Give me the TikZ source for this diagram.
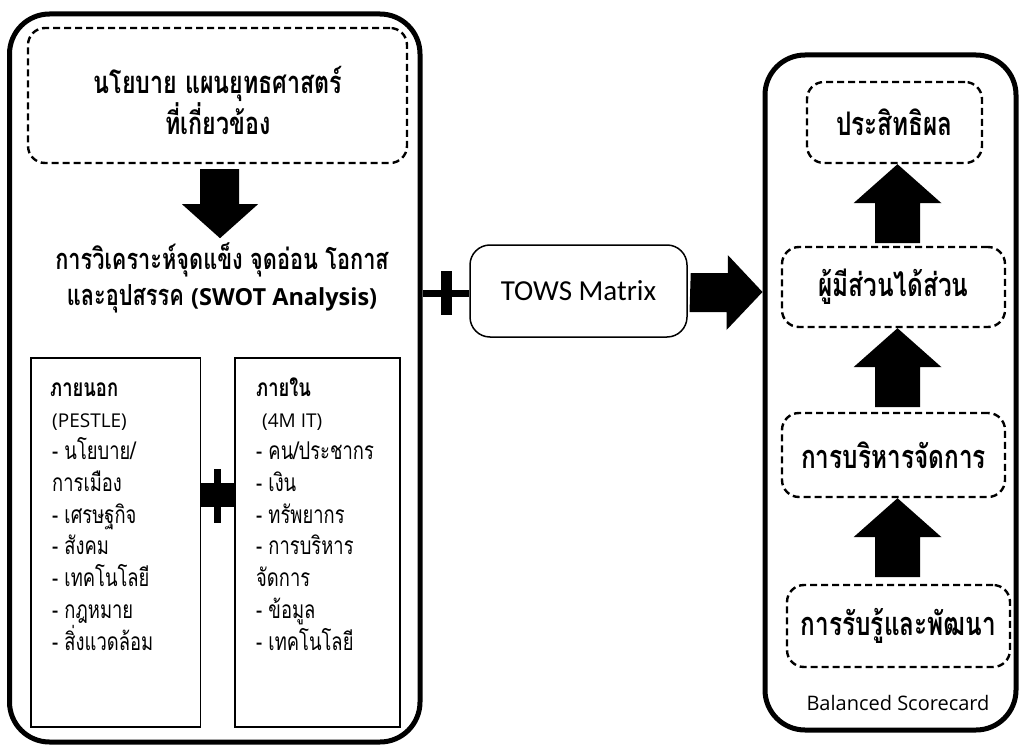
\documentclass[tikz,border=0pt]{standalone}
\usepackage{fontspec}
\setmainfont{Open Sans}
\newfontfamily\thai[Script=Thai, FakeStretch=0.75]{Loma}
\newfontfamily\calib{Carlito}
\usetikzlibrary{calc}
\tikzset{
  frame/.style={draw, line width=5pt, rounded corners=40pt, inner sep=0pt},
  dbox/.style={draw, line width=2.4pt, dash pattern=on 7pt off 4pt, rounded corners=17pt, inner sep=0pt},
  thinbox/.style={draw, line width=1.5pt, inner sep=0pt},
  towsbox/.style={draw, line width=1.5pt, rounded corners=20pt, inner sep=0pt},
  bigthai/.style={font=\thai\bfseries\fontsize{31}{41}\selectfont, align=center, inner sep=0pt},
  swotthai/.style={font=\thai\bfseries\fontsize{29}{36}\selectfont, align=center, inner sep=0pt},
  rthai/.style={font=\thai\bfseries\fontsize{32.5}{36}\selectfont},
  item/.style={font=\thai\fontsize{24.5}{26}\selectfont, inner sep=0pt, anchor=base west},
  itemhd/.style={font=\thai\bfseries\fontsize{24.5}{26}\selectfont, inner sep=0pt, anchor=base west},
}
\begin{document}
\begin{tikzpicture}[x=1pt, y=-1pt]
\useasboundingbox (0,0) rectangle (1022,746);
% left frame
\node[frame, minimum width=410.5pt, minimum height=728pt] (lframe) at (214.75,378) {};
\node[dbox, minimum width=379pt, minimum height=135pt] (policy) at (217.5,95.5) {};
\node[bigthai] (policyT) at (218,100) {นโยบาย แผนยุทธศาสตร์\\ที่เกี่ยวข้อง};
% down arrow
\coordinate (dtop) at ($(policy.south)+(2,5)$);
\fill (dtop) -- ++(-19.5,0) -- ++(0,35) -- ++(-18,0) -- ++(38,34) -- ++(38,-34) -- ++(-19,0) -- ++(0,-35) -- cycle;
\node[swotthai] (swot) at (222,278) {การวิเคราะห์จุดแข็ง จุดอ่อน โอกาส\\และอุปสรรค {\rmfamily\fontsize{23.5}{36}\selectfont (SWOT Analysis)}};
% inner boxes
\node[thinbox, minimum width=169.5pt, minimum height=369pt] (ext) at (115.75,542.5) {};
\node[thinbox, minimum width=165pt, minimum height=369pt] (int) at (317.5,542.5) {};
\node[itemhd] (e0) at (50,396) {ภายนอก};
\node[item] (e1) at (52,427.75) {\rmfamily\fontsize{19}{26}\selectfont (PESTLE)};
\foreach \t [count=\i from 2] in {{- นโยบาย/},{การเมือง},{- เศรษฐกิจ},{- สังคม},{- เทคโนโลยี},{- กฎหมาย},{- สิ่งแวดล้อม}}
  \node[item, name=e\i] at (52,{396+31.75*\i}) {\t};
\node[itemhd] (i0) at (256,396) {ภายใน};
\node[item] (i1) at (262,427.75) {\rmfamily\fontsize{19}{26}\selectfont (4M IT)};
\foreach \t [count=\i from 2] in {{- คน/ประชากร},{- เงิน},{- ทรัพยากร},{- การบริหาร},{จัดการ},{- ข้อมูล},{- เทคโนโลยี}}
  \node[item, name=i\i] at (256,{396+31.75*\i}) {\t};
% plus between inner boxes
\fill (ext.east |- 0,483) rectangle (int.west |- 0,507);
\fill (214,469) rectangle (221,523);
% TOWS
\node[towsbox, minimum width=217pt, minimum height=92pt, font=\calib\fontsize{29}{30}\selectfont] (tows) at (578.5,291) {TOWS Matrix};
\fill (lframe.east |- 0,290) rectangle (tows.west |- 0,297);
\fill (441,271) rectangle (452,315);
% right frame
\node[frame, minimum width=251pt, minimum height=675pt] (rframe) at (890.5,392.5) {};
\coordinate (rtip) at (rframe.west |- 0,292);
\fill ($(tows.east)+(3,-18)$) -- ++(37,0) -- ++(0,-18) -- (rtip) -- ++(-36,38) -- ++(0,-18) -- ++(-37,0) -- cycle;
% right boxes
\node[dbox, rthai, minimum width=175pt, minimum height=81pt] (eff) at (894.5,122.5) {ประสิทธิผล};
\node[dbox, rthai, minimum width=223pt, minimum height=80pt] (stake) at (893.5,287) {ผู้มีส่วนได้ส่วน};
\node[dbox, rthai, minimum width=223pt, minimum height=84pt] (mgmt) at (893.5,455) {การบริหารจัดการ};
\node[dbox, rthai, minimum width=223pt, minimum height=82pt] (learn) at (898.5,626) {การรับรู้และพัฒนา};
\node[font=\fontsize{20}{22}\selectfont, inner sep=0pt] (bsc) at (898,703) {Balanced Scorecard};
% up arrows
\foreach \b/\s in {eff/3, stake/4, mgmt/4}{
  \fill ($(\b.south)+(\s,0)$) -- ++(44,39) -- ++(-21.5,0) -- ++(0,40) -- ++(-45,0) -- ++(0,-40) -- ++(-21.5,0) -- cycle;
}
\end{tikzpicture}
\end{document}
